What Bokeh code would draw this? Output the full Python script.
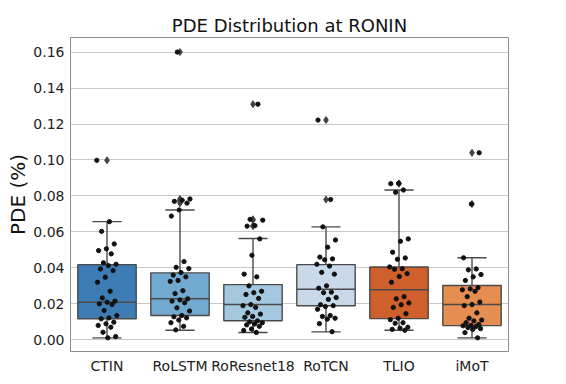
from bokeh.plotting import figure
from bokeh.models import Range1d, FixedTicker, ColumnDataSource
from bokeh.embed import file_html
from bokeh.resources import INLINE

categories = ["CTIN", "RoLSTM", "RoResnet18", "RoTCN", "TLIO", "iMoT"]
box_colors = ["#3d7cb4", "#72a9d0", "#a4c8df", "#c8d9ea", "#cf5f2b", "#e68d52"]

# box statistics
q1 = [0.0117, 0.0135, 0.0106, 0.0189, 0.0118, 0.0079]
median = [0.0209, 0.0228, 0.0196, 0.0281, 0.0278, 0.0196]
q3 = [0.0418, 0.0372, 0.0307, 0.0418, 0.0405, 0.0302]
whisker_lo = [0.0011, 0.0053, 0.0041, 0.0044, 0.0053, 0.0011]
whisker_hi = [0.0657, 0.0722, 0.0563, 0.0628, 0.0833, 0.0456]

pde_ctin = [0.0998, 0.0657, 0.0603, 0.0533, 0.0506, 0.0496, 0.0478, 0.0428, 0.0420, 0.0413,
            0.0394, 0.0385, 0.0348, 0.0320, 0.0270, 0.0233, 0.0215, 0.0209, 0.0200, 0.0196,
            0.0163, 0.0135, 0.0122, 0.0117, 0.0098, 0.0089, 0.0080, 0.0070, 0.0042, 0.0018, 0.0011]
pde_rolstm = [0.1600, 0.0783, 0.0776, 0.0770, 0.0760, 0.0722, 0.0688, 0.0435, 0.0403, 0.0396,
              0.0374, 0.0360, 0.0350, 0.0330, 0.0325, 0.0273, 0.0257, 0.0228, 0.0222, 0.0215,
              0.0206, 0.0178, 0.0160, 0.0135, 0.0128, 0.0122, 0.0110, 0.0095, 0.0075, 0.0055]
pde_roresnet18 = [0.1310, 0.0670, 0.0665, 0.0635, 0.0632, 0.0561, 0.0470, 0.0365, 0.0350, 0.0300,
                  0.0270, 0.0262, 0.0252, 0.0230, 0.0196, 0.0190, 0.0180, 0.0150, 0.0143, 0.0130,
                  0.0125, 0.0105, 0.0100, 0.0095, 0.0088, 0.0083, 0.0075, 0.0060, 0.0052, 0.0041]
pde_rotcn = [0.1222, 0.0780, 0.0628, 0.0555, 0.0515, 0.0460, 0.0450, 0.0445, 0.0420, 0.0410,
             0.0375, 0.0365, 0.0300, 0.0287, 0.0265, 0.0262, 0.0235, 0.0225, 0.0195, 0.0190,
             0.0185, 0.0170, 0.0135, 0.0130, 0.0120, 0.0115, 0.0090, 0.0045]
pde_tlio = [0.0870, 0.0868, 0.0833, 0.0820, 0.0561, 0.0548, 0.0487, 0.0455, 0.0448, 0.0405,
            0.0395, 0.0392, 0.0368, 0.0352, 0.0320, 0.0240, 0.0228, 0.0205, 0.0195, 0.0180,
            0.0145, 0.0120, 0.0112, 0.0095, 0.0092, 0.0070, 0.0065, 0.0058, 0.0053]
pde_imot = [0.1040, 0.0755, 0.0456, 0.0394, 0.0389, 0.0363, 0.0350, 0.0330, 0.0290, 0.0283,
            0.0278, 0.0270, 0.0240, 0.0210, 0.0196, 0.0190, 0.0150, 0.0120, 0.0110, 0.0105,
            0.0095, 0.0085, 0.0080, 0.0078, 0.0073, 0.0068, 0.0062, 0.0058, 0.0040, 0.0011]

y_ticks = [0.00, 0.02, 0.04, 0.06, 0.08, 0.10, 0.12, 0.14, 0.16]
y_tick_labels = ["0.00", "0.02", "0.04", "0.06", "0.08", "0.10", "0.12", "0.14", "0.16"]

series = [pde_ctin, pde_rolstm, pde_roresnet18, pde_rotcn, pde_tlio, pde_imot]
FONT = "DejaVu Sans"

p = figure(width=558, height=376, output_backend="svg", toolbar_location=None,
           x_range=Range1d(-0.5, len(categories) - 0.5), y_range=Range1d(-0.0065, 0.1681),
           min_border_left=70, min_border_right=50, min_border_top=37, min_border_bottom=25)

p.title.text = "PDE Distribution at RONIN"
p.title.text_font = FONT
p.title.text_font_size = "18px"
p.title.text_font_style = "normal"
p.title.align = "center"
p.title.text_color = "#111111"
p.title.standoff = 4

xs = list(range(len(categories)))
box_src = ColumnDataSource(dict(x=xs, q1=q1, q3=q3, med=median, lo=whisker_lo, hi=whisker_hi,
                                color=box_colors,
                                xl=[i - 0.4 for i in xs], xr=[i + 0.4 for i in xs],
                                cl=[i - 0.2 for i in xs], cr=[i + 0.2 for i in xs]))
LINE = "#4a4a4a"
p.segment(x0="x", x1="x", y0="q3", y1="hi", source=box_src, line_color=LINE, line_width=1.4)
p.segment(x0="x", x1="x", y0="lo", y1="q1", source=box_src, line_color=LINE, line_width=1.4)
p.segment(x0="cl", x1="cr", y0="hi", y1="hi", source=box_src, line_color=LINE, line_width=1.4)
p.segment(x0="cl", x1="cr", y0="lo", y1="lo", source=box_src, line_color=LINE, line_width=1.4)
p.vbar(x="x", width=0.8, bottom="q1", top="q3", source=box_src, fill_color="color",
       line_color=LINE, line_width=1.4)
p.segment(x0="xl", x1="xr", y0="med", y1="med", source=box_src, line_color=LINE, line_width=1.4)

# outliers (fliers) as diamonds at the category centre
fx, fy = [], []
for i, vals in enumerate(series):
    for v in vals:
        if v > whisker_hi[i] + 1e-9 or v < whisker_lo[i] - 1e-9:
            fx.append(i)
            fy.append(v)
p.scatter(fx, fy, marker="diamond", size=7, fill_color="#444444", line_color="#444444")

# strip points with a deterministic jitter
sx, sy = [], []
for i, vals in enumerate(series):
    for k, v in enumerate(vals):
        frac = (k * 0.6180339887 + i * 0.37) % 1.0
        sx.append(i + (frac - 0.5) * 0.28)
        sy.append(v)
p.scatter(sx, sy, size=4.3, fill_color="#111111", line_color="#111111")

p.xaxis.ticker = FixedTicker(ticks=xs)
p.xaxis.major_label_overrides = {i: c for i, c in enumerate(categories)}
p.yaxis.ticker = FixedTicker(ticks=y_ticks)
p.yaxis.major_label_overrides = {t: l for t, l in zip(y_ticks, y_tick_labels)}
p.yaxis.axis_label = "PDE (%)"
p.yaxis.axis_label_text_font = FONT
p.yaxis.axis_label_text_font_size = "20px"
p.yaxis.axis_label_text_font_style = "normal"
p.yaxis.axis_label_text_color = "#111111"
p.yaxis.axis_label_standoff = 0
for ax in (p.xaxis, p.yaxis):
    ax.major_label_text_font = FONT
    ax.major_label_text_font_size = "14px"
    ax.major_label_text_color = "#222222"
    ax.major_tick_line_color = None
    ax.minor_tick_line_color = None
    ax.major_tick_out = 0
    ax.major_tick_in = 0
    ax.minor_tick_out = 0
    ax.minor_tick_in = 0
    ax.axis_line_color = None
    ax.major_label_standoff = 6

p.xgrid.grid_line_color = None
p.ygrid.grid_line_color = "#c8c8c8"
p.ygrid.grid_line_width = 1
p.outline_line_color = "#8c8c8c"
p.outline_line_width = 1
p.background_fill_color = "white"

open("out.html", "w").write(file_html(p, INLINE))
